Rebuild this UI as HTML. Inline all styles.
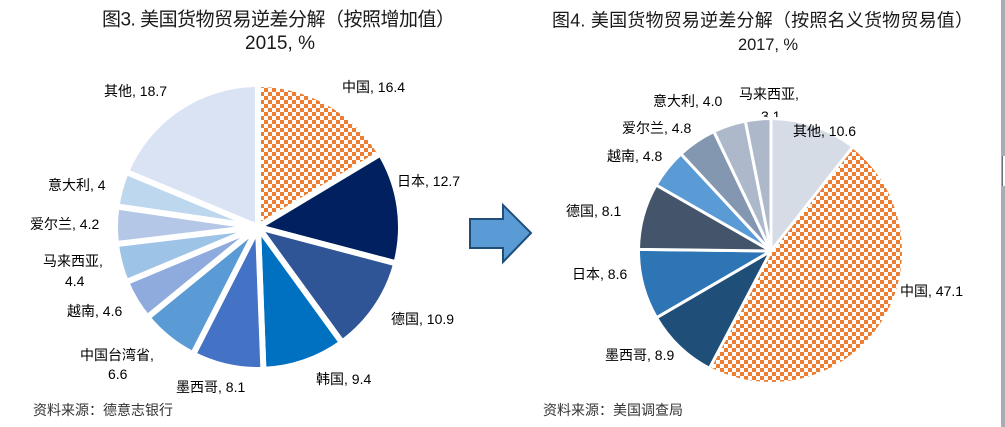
<!DOCTYPE html>
<html><head><meta charset="utf-8"><style>
html,body{margin:0;padding:0;background:#fff;}
svg{display:block;}
text{font-family:"Liberation Sans","Noto Sans CJK SC",sans-serif;fill:#000;}
.t{font-size:18.5px;fill:#1a1a1a;}
.l{font-size:14px;}
.s{font-size:14px;fill:#333;}
</style></head><body>
<svg id="s" width="1005" height="427" viewBox="0 0 1005 427" xmlns="http://www.w3.org/2000/svg">
<defs>
<pattern id="chk" x="0" y="0" width="8" height="8" patternUnits="userSpaceOnUse">
<rect x="0" y="0" width="8" height="8" fill="#fff"/>
<rect x="0" y="0" width="4" height="4" fill="#ED7D31"/>
<rect x="4" y="4" width="4" height="4" fill="#ED7D31"/>
</pattern>
</defs>
<rect x="0" y="0" width="1005" height="427" fill="#fff"/>
<!-- titles -->
<text class="t" x="102" y="25.5" style="font-size:19px" textLength="353" lengthAdjust="spacing">图3. 美国货物贸易逆差分解（按照增加值）</text>
<text class="t" x="245" y="49" style="font-size:19px" textLength="70" lengthAdjust="spacing">2015, %</text>
<text class="t" x="552" y="26.5" style="font-size:18px" textLength="421" lengthAdjust="spacing">图4. 美国货物贸易逆差分解（按照名义货物贸易值）</text>
<text class="t" x="738" y="50" style="font-size:16.5px" textLength="60" lengthAdjust="spacing">2017, %</text>
<!-- pie2 label drawn behind pie -->
<text class="l" x="761" y="121">3.1</text>
<g id="p1"></g>
<g id="p2"></g>
<!-- pie1 labels -->
<text class="l" x="104" y="96">其他, 18.7</text>
<text class="l" x="342" y="92">中国, 16.4</text>
<text class="l" x="397" y="186">日本, 12.7</text>
<text class="l" x="48" y="190">意大利, 4</text>
<text class="l" x="30" y="229">爱尔兰, 4.2</text>
<text class="l" x="43" y="266">马来西亚,</text>
<text class="l" x="65" y="286">4.4</text>
<text class="l" x="67" y="316">越南, 4.6</text>
<text class="l" x="80" y="360">中国台湾省,</text>
<text class="l" x="108" y="379">6.6</text>
<text class="l" x="176" y="392">墨西哥, 8.1</text>
<text class="l" x="316" y="384">韩国, 9.4</text>
<text class="l" x="391" y="324">德国, 10.9</text>
<text class="s" x="33" y="415">资料来源：德意志银行</text>
<!-- pie2 labels -->
<text class="l" x="653" y="106">意大利, 4.0</text>
<text class="l" x="739" y="99">马来西亚,</text>
<text class="l" x="622" y="133">爱尔兰, 4.8</text>
<text class="l" x="793" y="136">其他, 10.6</text>
<text class="l" x="607" y="161">越南, 4.8</text>
<text class="l" x="566" y="216">德国, 8.1</text>
<text class="l" x="572" y="279">日本, 8.6</text>
<text class="l" x="900" y="296">中国, 47.1</text>
<text class="l" x="605" y="360">墨西哥, 8.9</text>
<text class="s" x="543" y="415">资料来源：美国调查局</text>
<!-- arrow -->
<polygon points="470,219 503,219 503,205 531,233 503,262 503,248 470,248" fill="#5B9BD5" stroke="#1F4E79" stroke-width="2" stroke-linejoin="miter"/>
<!-- right scrollbar -->
<rect x="1001" y="0" width="4" height="427" fill="#ABABB3"/>
<rect x="1002" y="156" width="3" height="30" fill="#fff"/>
<rect x="1002" y="156" width="1" height="30" fill="#6d6d75"/>
</svg>
<script>
(function(){
var NS="http://www.w3.org/2000/svg";
function pie(gid,cx,cy,r,sw,data){
  var g=document.getElementById(gid);
  var tot=0;data.forEach(function(d){tot+=d[0];});
  var a=0;
  data.forEach(function(d){
    var a0=a, a1=a+d[0]/tot*360; a=a1;
    var r0=a0*Math.PI/180, r1=a1*Math.PI/180;
    var x0=cx+r*Math.sin(r0), y0=cy-r*Math.cos(r0);
    var x1=cx+r*Math.sin(r1), y1=cy-r*Math.cos(r1);
    var large=(a1-a0)>180?1:0;
    var p=document.createElementNS(NS,"path");
    p.setAttribute("d","M"+cx+","+cy+" L"+x0.toFixed(2)+","+y0.toFixed(2)+" A"+r+","+r+" 0 "+large+" 1 "+x1.toFixed(2)+","+y1.toFixed(2)+" Z");
    p.setAttribute("fill",d[1]);
    p.setAttribute("stroke","#fff");
    p.setAttribute("stroke-width",sw);
    p.setAttribute("stroke-linejoin","round");
    g.appendChild(p);
  });
}
pie("p1",258,227,143,6,[
 [16.4,"url(#chk)"],[12.7,"#002060"],[10.9,"#2F5597"],[9.4,"#0070C0"],[8.1,"#4472C4"],
 [6.6,"#5B9BD5"],[4.6,"#8FAADC"],[4.4,"#9DC3E6"],[4.2,"#B4C7E7"],[4,"#BDD7EE"],[18.7,"#DAE3F3"]
]);
pie("p2",771,251,132.5,3,[
 [10.6,"#D6DCE5"],[47.1,"url(#chk)"],[8.9,"#1F4E79"],[8.6,"#2E75B6"],[8.1,"#44546A"],
 [4.8,"#5B9BD5"],[4.8,"#8497B0"],[4.0,"#ADB9CA"],[3.1,"#ADB9CA"]
]);
})();
</script>
</body></html>
